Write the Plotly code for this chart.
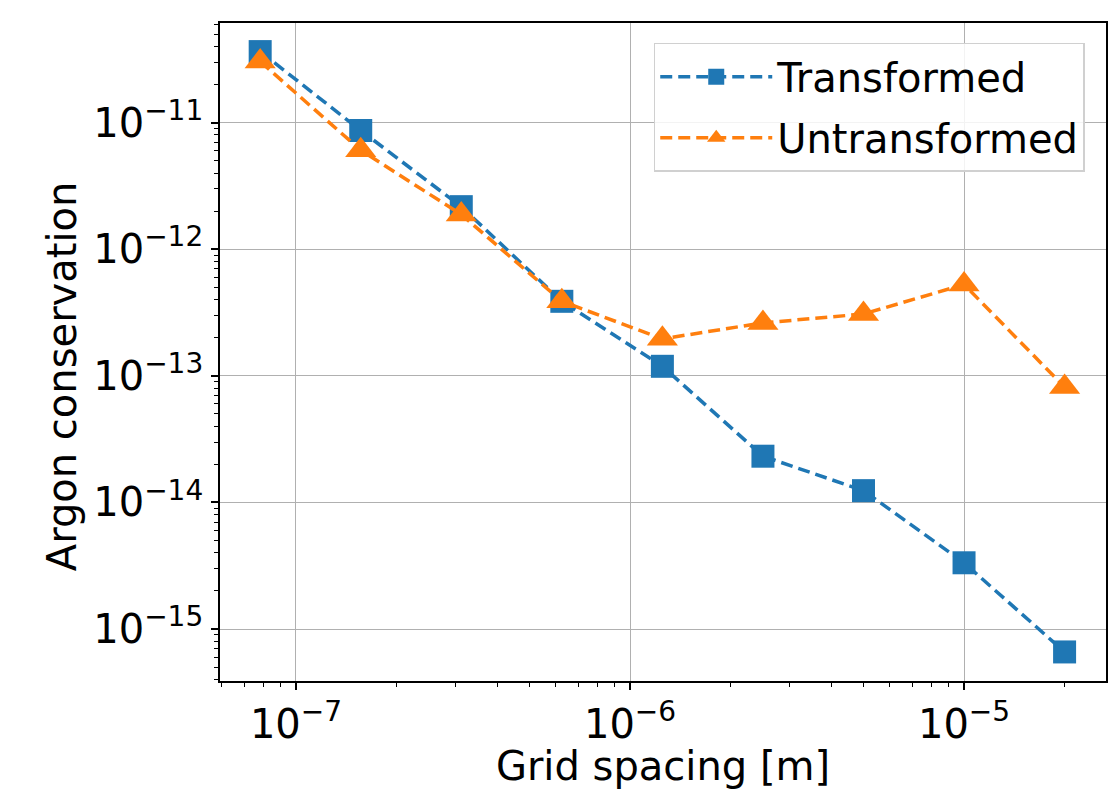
import plotly.graph_objects as go

grid_spacing = [7.8125e-8, 1.5625e-7, 3.125e-7, 6.25e-7, 1.25e-6, 2.5e-6, 5e-6, 1e-5, 2e-5]
transformed = [3.64e-11, 8.67e-12, 2.17e-12, 3.88e-13, 1.19e-13, 2.32e-14, 1.24e-14, 3.34e-15, 6.6e-16]
untransformed = [3.04e-11, 6.05e-12, 1.88e-12, 3.88e-13, 1.96e-13, 2.62e-13, 3.08e-13, 5.27e-13, 8.15e-14]

x_tickvals = [1e-7, 1e-6, 1e-5]
x_ticktext = ["10<sup>\u22127</sup>", "10<sup>\u22126</sup>", "10<sup>\u22125</sup>"]
y_tickvals = [1e-11, 1e-12, 1e-13, 1e-14, 1e-15]
y_ticktext = ["10<sup>\u221211</sup>", "10<sup>\u221212</sup>", "10<sup>\u221213</sup>",
              "10<sup>\u221214</sup>", "10<sup>\u221215</sup>"]

x_minor = [m * 10.0 ** e for e in range(-8, -4) for m in range(2, 10)]
y_minor = [m * 10.0 ** e for e in range(-16, -10) for m in range(2, 10)]

x_title = "Grid spacing [m]"
y_title = "Argon conservation"

FONT = "DejaVu Sans"
FS = 40

fig = go.Figure()
fig.add_trace(go.Scatter(
    x=grid_spacing, y=transformed, name="Transformed", mode="lines+markers",
    legendgroup="a",
    line=dict(color="#1f77b4", width=3.5, dash="12px,6px"),
    marker=dict(symbol="square", size=23, color="#1f77b4"),
))
fig.add_trace(go.Scatter(
    x=grid_spacing, y=untransformed, name="Untransformed", mode="lines+markers",
    legendgroup="b",
    line=dict(color="#ff7f0e", width=3.5, dash="12px,6px"),
    marker=dict(symbol="triangle-up", size=27, color="#ff7f0e"),
))

axis_common = dict(
    type="log", showline=True, linecolor="black", linewidth=1.5, mirror=True,
    showgrid=True, gridcolor="#b0b0b0", gridwidth=1,
    ticks="outside", ticklen=7, tickwidth=1.5, tickcolor="black",
    tickfont=dict(family=FONT, size=FS, color="black"),
    zeroline=False,
)

fig.update_layout(
    width=1120, height=789,
    margin=dict(l=220, r=14, t=23, b=99),
    paper_bgcolor="white", plot_bgcolor="white",
    font=dict(family=FONT, size=FS, color="black"),
    xaxis=dict(
        **axis_common,
        range=[-7.2275, -4.575],
        tickvals=x_tickvals, ticktext=x_ticktext,
        minor=dict(tickvals=x_minor, ticks="outside", ticklen=4, tickwidth=1,
                   tickcolor="black", showgrid=False),
        title=dict(text=x_title, font=dict(family=FONT, size=FS), standoff=2),
    ),
    yaxis=dict(
        **axis_common,
        range=[-15.41, -10.213],
        tickvals=y_tickvals, ticktext=y_ticktext,
        minor=dict(tickvals=y_minor, ticks="outside", ticklen=4, tickwidth=1,
                   tickcolor="black", showgrid=False),
    ),
    annotations=[dict(
        text=y_title, xref="paper", yref="paper", x=-0.1783, y=0.4633,
        xanchor="center", yanchor="middle", textangle=-90, showarrow=False,
        font=dict(family=FONT, size=FS, color="black"),
    )],
    legend=dict(
        x=0.976, y=0.97, xanchor="right", yanchor="top",
        bgcolor="rgba(255,255,255,0.85)", bordercolor="#d0d0d0", borderwidth=1.5,
        font=dict(family=FONT, size=FS, color="black"),
        itemwidth=112, tracegroupgap=6, traceorder="grouped",
        entrywidth=430, entrywidthmode="pixels",
    ),
    showlegend=True,
)

fig.write_html("out.html")
